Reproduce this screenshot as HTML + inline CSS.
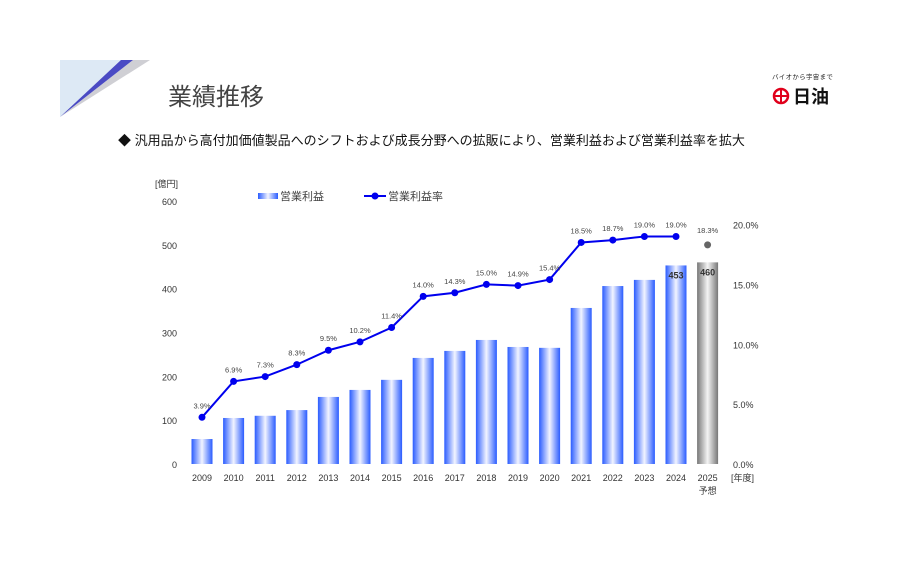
<!DOCTYPE html>
<html><head><meta charset="utf-8"><style>
body{margin:0;width:912px;height:566px;background:#fff;overflow:hidden;font-family:"Liberation Sans","Noto Sans CJK JP",sans-serif;}
.t{position:absolute;}
</style></head><body>
<div style="position:relative;width:912px;height:566px;">
<svg class="t" style="left:0;top:0" width="160" height="130">
<polygon points="60,60 133,60 60,117" fill="#dde9f5"/>
<polygon points="60,117 150,60 133,60" fill="#cfcfd4"/>
<polygon points="60,117 133,60 121,60" fill="#4a4ac4"/>
</svg>
<div class="t" style="left:168px;top:77px;font-size:24px;color:#444;">業績推移</div>
<div class="t" style="left:772px;top:71px;width:70px;">
<div style="font-size:6.5px;color:#222;letter-spacing:.3px;">バイオから宇宙まで</div>
<div style="display:flex;align-items:center;margin-top:2px;">
<svg width="18" height="18"><circle cx="9" cy="9" r="7" fill="none" stroke="#e0001b" stroke-width="2.5"/><path d="M2 9H16M9 2V16" stroke="#e0001b" stroke-width="2"/></svg>
<span style="font-size:18px;font-weight:bold;color:#111;margin-left:3px;">日油</span></div></div>
<div class="t" style="left:118px;top:130px;font-size:13px;color:#111;">◆ 汎用品から高付加価値製品へのシフトおよび成長分野への拡販により、営業利益および営業利益率を拡大</div>
<svg id="chart" class="t" style="left:0;top:0" width="912" height="566">
<defs>
<linearGradient id="gb" x1="0" x2="1"><stop offset="0" stop-color="#2a5cff"/><stop offset="0.5" stop-color="#f2f4ff"/><stop offset="1" stop-color="#2a5cff"/></linearGradient>
<linearGradient id="gg" x1="0" x2="1"><stop offset="0" stop-color="#777"/><stop offset="0.5" stop-color="#f4f4f4"/><stop offset="1" stop-color="#777"/></linearGradient>
</defs>
</svg>
</div>
<script>
const years=["2009","2010","2011","2012","2013","2014","2015","2016","2017","2018","2019","2020","2021","2022","2023","2024","2025"];
const profit=[57,105,110,123,153,169,192,242,258,283,267,265,356,406,420,453,460];
const margin=[3.9,6.9,7.3,8.3,9.5,10.2,11.4,14.0,14.3,15.0,14.9,15.4,18.5,18.7,19.0,19.0,18.3];
const leftTicks=[0,100,200,300,400,500,600];
const rightTicks=[0,5,10,15,20];
const NS="http://www.w3.org/2000/svg";
const svg=document.getElementById('chart');
const x=i=>202+i*31.6;
const yL=v=>464-v*263/600;
const yR=v=>464-v*239.5/20;
function mk(t,a,txt){const e=document.createElementNS(NS,t);for(const k in a)e.setAttribute(k,a[k]);if(txt!=null)e.textContent=txt;svg.appendChild(e);return e;}
const F='"Liberation Sans","Noto Sans CJK JP",sans-serif';
leftTicks.forEach(v=>{const e=mk('text',{x:177,y:yL(v)+4,'text-anchor':'end','font-size':9,fill:'#333','font-family':F},v);

});
rightTicks.forEach(v=>{const e=mk('text',{x:733,y:yR(v)+4,'font-size':9,fill:'#333','font-family':F},v.toFixed(1)+'%');

});
let e=mk('text',{x:155,y:187,'font-size':9,fill:'#333','font-family':F},'[億円]');


e=mk('text',{x:731,y:481,'font-size':9,fill:'#333','font-family':F},'[年度]');


years.forEach((yr,i)=>{
 const last=i===years.length-1;
 const b=mk('rect',{x:x(i)-10.5,y:yL(profit[i]),width:21,height:464-yL(profit[i]),fill:last?'url(#gg)':'url(#gb)'});
 
 
 const t=mk('text',{x:x(i),y:481,'text-anchor':'middle','font-size':9,fill:'#333','font-family':F},yr);
 
 
 if(i>=15){const l=mk('text',{x:x(i),y:yL(profit[i])+13,'text-anchor':'middle','font-size':9,'font-weight':'bold',fill:'#333','font-family':F},profit[i]);
 
 }
});
e=mk('text',{x:x(16),y:494,'text-anchor':'middle','font-size':9,fill:'#333','font-family':F},'予想');


const n=16;
let d='';for(let i=0;i<n;i++)d+=(i?'L':'M')+x(i)+' '+yR(margin[i]);
e=mk('path',{d:d,fill:'none',stroke:'#0000ee','stroke-width':2});


margin.forEach((m,i)=>{
 const last=i===n;
 const c=mk('circle',{cx:x(i),cy:yR(m),r:3.5,fill:last?'#666':'#0000ee'});
 
 
 const t=mk('text',{x:x(i),y:yR(m)-(last?12:9),'text-anchor':'middle','font-size':7.5,fill:'#444','font-family':F},m.toFixed(1)+'%');
 
 
});
e=mk('rect',{x:258,y:193,width:20,height:6,fill:'url(#gb)'});


e=mk('text',{x:280,y:200,'font-size':11,fill:'#444','font-family':F},'営業利益');


e=mk('line',{x1:364,y1:196,x2:386,y2:196,stroke:'#0000ee','stroke-width':2});


e=mk('circle',{cx:375,cy:196,r:3.5,fill:'#0000ee'});


e=mk('text',{x:388,y:200,'font-size':11,fill:'#444','font-family':F},'営業利益率');


</script>
</body></html>
